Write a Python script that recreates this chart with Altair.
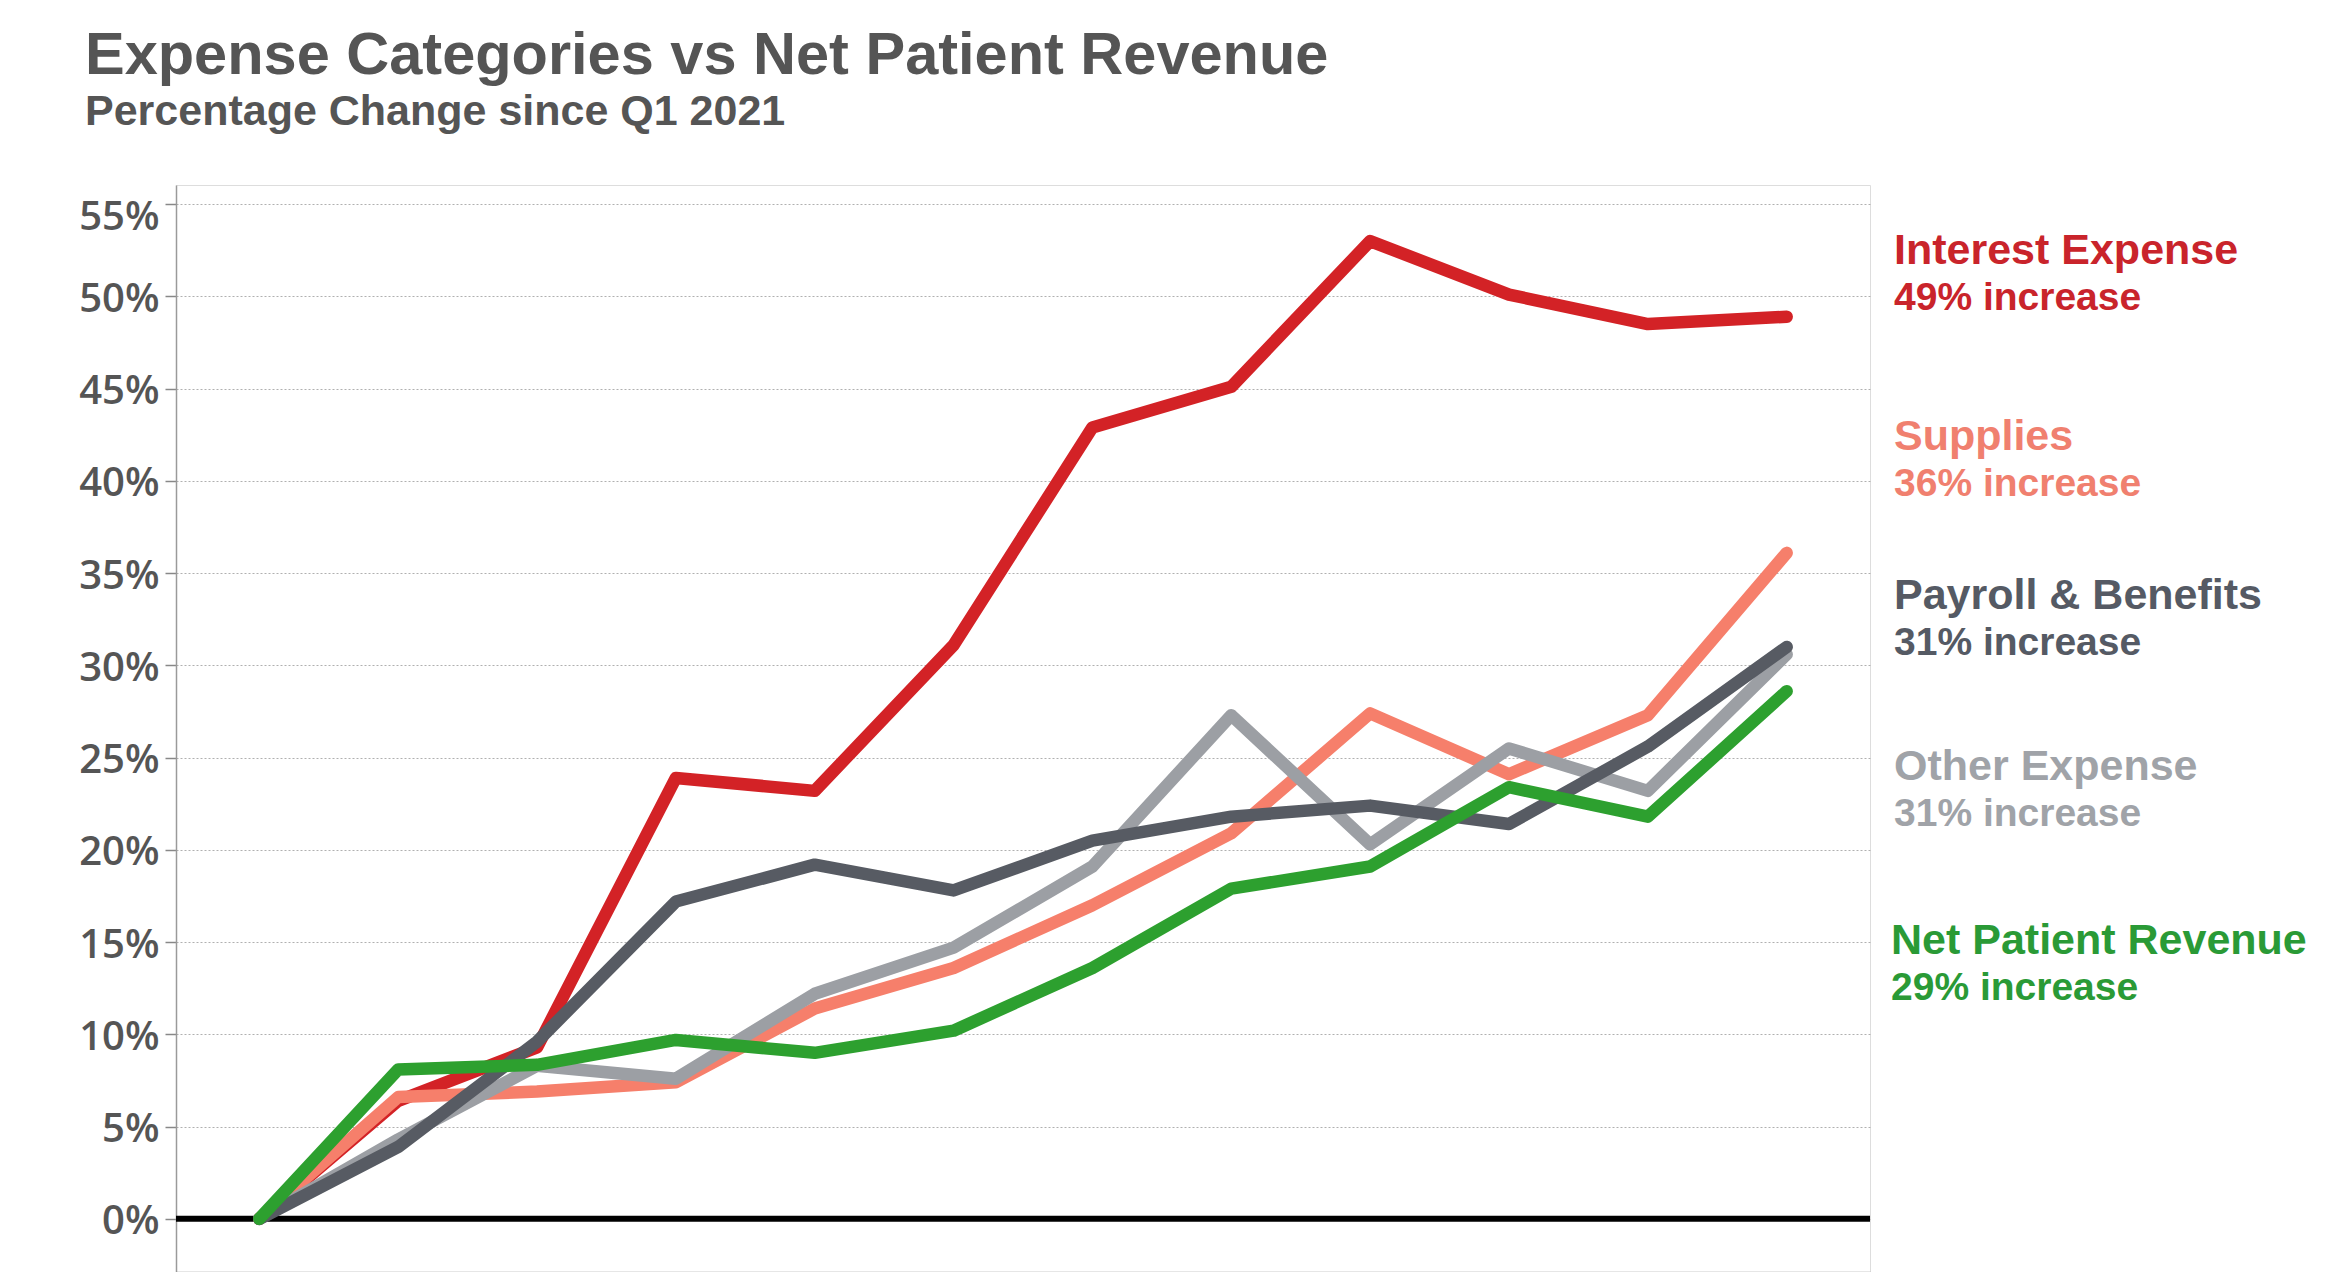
import altair as alt
import pandas as pd

# ---------------- data ----------------
quarters = ["Q1 2021", "Q2 2021", "Q3 2021", "Q4 2021",
            "Q1 2022", "Q2 2022", "Q3 2022", "Q4 2022",
            "Q1 2023", "Q2 2023", "Q3 2023", "Q4 2023"]

series_names = ["Interest Expense", "Supplies", "Payroll & Benefits",
                "Other Expense", "Net Patient Revenue"]

# percentage change since Q1 2021 (in %)
interest = [0, 6.4, 9.3, 23.9, 23.2, 31.1, 42.9, 45.1, 53.0, 50.1, 48.5, 48.9]
supplies = [0, 6.6, 6.9, 7.4, 11.4, 13.6, 17.0, 20.9, 27.4, 24.1, 27.3, 36.1]
payroll = [0, 3.9, 9.6, 17.2, 19.2, 17.8, 20.5, 21.8, 22.4, 21.4, 25.6, 31.0]
other = [0, 4.3, 8.3, 7.6, 12.2, 14.7, 19.1, 27.3, 20.3, 25.5, 23.2, 30.6]
npr = [0, 8.1, 8.35, 9.7, 9.0, 10.2, 13.6, 17.9, 19.1, 23.4, 21.8, 28.6]

increase_text = ["49% increase", "36% increase", "31% increase",
                 "31% increase", "29% increase"]

line_colors = ["#D32226", "#F67F6B", "#575B63", "#9C9FA4", "#2DA02F"]
label_colors = ["#C9242B", "#F0806F", "#555A64", "#A0A3A8", "#2A9A36"]

values = [interest, supplies, payroll, other, npr]

rows = []
for name, vals in zip(series_names, values):
    for q, v in zip(quarters, vals):
        rows.append({"quarter": q, "series": name, "pct": v / 100.0})
df = pd.DataFrame(rows)

# ---------------- layout ----------------
W, H = 1694, 1087
LABEL_X = 1718
label_line1_y = [79, 265, 424, 595, 769]
LINE_GAP = 46

x_enc = alt.X(
    "quarter:O",
    sort=quarters,
    scale=alt.Scale(type="point", padding=0.6),
    axis=alt.Axis(labels=False, title=None, ticks=True, tickSize=12,
                  tickColor="#999999", domainColor="#9a9a9a",
                  domainWidth=1.5, grid=False),
)
y_enc = alt.Y(
    "pct:Q",
    scale=alt.Scale(domain=[-0.0288, 0.5604], nice=False, zero=False),
    axis=alt.Axis(values=[i * 0.05 for i in range(12)], format=".0%",
                  title=None, labelFont="Open Sans", labelFontWeight=600,
                  labelFontSize=40, labelColor="#555555", labelPadding=6,
                  labelOffset={"condition": {"test": "datum.value > 0.54",
                                             "value": 13},
                               "value": 3},
                  tickSize=11, tickColor="#888888", tickWidth=1.5,
                  domainColor="#9a9a9a", domainWidth=1.5,
                  grid=True, gridDash=[2, 2], gridColor="#b0b0b0",
                  gridWidth=1),
)

zero_rule = alt.Chart(pd.DataFrame({"pct": [0.0]})).mark_rule(
    color="black", strokeWidth=6
).encode(y=alt.Y("pct:Q"))

draw_order = [0, 1, 3, 2, 4]
line_layers = []
for i in draw_order:
    name = series_names[i]
    line_layers.append(
        alt.Chart(df[df["series"] == name]).mark_line(
            color=line_colors[i], strokeWidth=12.5,
            strokeCap="round", strokeJoin="round"
        ).encode(x=x_enc, y=y_enc)
    )

text_layers = []
for i, name in enumerate(series_names):
    y1 = label_line1_y[i]
    dx = -3 if i == 4 else 0
    for txt, yy, fs in [(name, y1, 43), (increase_text[i], y1 + LINE_GAP, 39)]:
        text_layers.append(
            alt.Chart(pd.DataFrame({"t": [txt]})).mark_text(
                align="left", baseline="alphabetic", font="Liberation Sans",
                fontWeight="bold", fontSize=fs, color=label_colors[i]
            ).encode(text="t:N", x=alt.value(LABEL_X + dx), y=alt.value(yy))
        )

chart = alt.layer(zero_rule, *line_layers, *text_layers).properties(
    width=W,
    height=H,
    title=alt.TitleParams(
        text="Expense Categories vs Net Patient Revenue",
        subtitle="Percentage Change since Q1 2021",
        anchor="start", frame="group", dx=-91, offset=50,
        font="Liberation Sans", fontSize=59.5, fontWeight="bold",
        color="#555555",
        subtitleFont="Liberation Sans", subtitleFontSize=43,
        subtitleFontWeight="bold", subtitleColor="#555555",
        subtitlePadding=5,
    ),
    autosize=alt.AutoSizeParams(type="none"),
    padding={"left": 168, "top": 177, "right": 463, "bottom": 0},
).configure_view(
    stroke="#9a9a9a", strokeWidth=1.5
).configure(background="white")

chart.save("out.html", embed_options={"renderer": "svg", "actions": False})
